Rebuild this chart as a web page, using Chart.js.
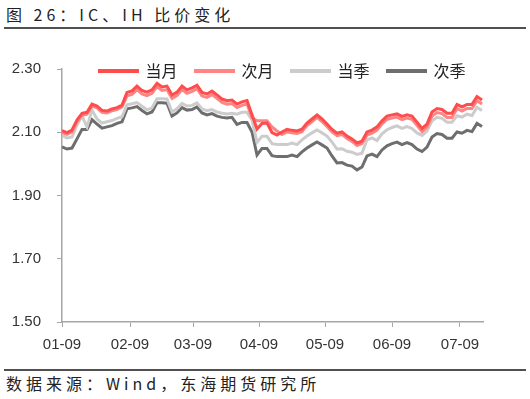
<!DOCTYPE html>
<html>
<head>
<meta charset="utf-8">
<script src="https://cdn.jsdelivr.net/npm/chart.js@4.4.1/dist/chart.umd.min.js"></script>
<style>
  body { margin: 0; background: #fff; width: 530px; height: 399px; position: relative; overflow: hidden; }
  .cjk { font-family: "Noto Sans CJK SC", sans-serif; color: #222; position: absolute; white-space: nowrap; }
  #title { left: 6px; top: 3px; font-size: 16px; line-height: 22px; letter-spacing: 4px; }
  #source { left: 6px; top: 373px; font-size: 16px; line-height: 20px; letter-spacing: 4px; }
  .rule { position: absolute; left: 4px; width: 522px; height: 2px; background: #505050; }
  #chartBox { position: absolute; left: 0; top: 25px; }
</style>
</head>
<body>
<div id="title" class="cjk">图 26：IC、IH 比价变化</div>
<div class="rule" style="top:27px"></div>
<div id="chartBox"><canvas id="ratio" width="530" height="335"></canvas></div>
<div class="rule" style="top:369px"></div>
<div id="source" class="cjk">数据来源：Wind，东海期货研究所</div>

<script>
// trading-day index on the x axis, month ticks sit between days
const seriesNames = ["当月", "次月", "当季", "次季"];
const tickDays = [0, 13.6, 26.2, 39.4, 52.6, 66, 79.6];
const tickLabels = ["01-09", "02-09", "03-09", "04-09", "05-09", "06-09", "07-09"];

const curMonth = [
  2.105, 2.099, 2.107, 2.139, 2.160, 2.163, 2.189, 2.183, 2.169, 2.167,
  2.174, 2.178, 2.186, 2.226, 2.231, 2.246, 2.232, 2.227, 2.234, 2.255,
  2.243, 2.246, 2.218, 2.227, 2.246, 2.234, 2.240, 2.249, 2.226, 2.221,
  2.230, 2.218, 2.205, 2.200, 2.202, 2.189, 2.196, 2.200, 2.155, 2.110,
  2.128, 2.129, 2.099, 2.091, 2.101, 2.109, 2.106, 2.104, 2.110, 2.129,
  2.142, 2.155, 2.142, 2.126, 2.109, 2.097, 2.101, 2.088, 2.079, 2.066,
  2.072, 2.101, 2.107, 2.117, 2.136, 2.151, 2.155, 2.158, 2.150, 2.155,
  2.151, 2.132, 2.112, 2.126, 2.164, 2.175, 2.172, 2.160, 2.160, 2.188,
  2.180, 2.188, 2.188, 2.213, 2.202
];
const nextMonth = [
  2.099, 2.093, 2.101, 2.133, 2.154, 2.157, 2.183, 2.177, 2.163, 2.161,
  2.168, 2.172, 2.180, 2.215, 2.220, 2.235, 2.221, 2.216, 2.223, 2.244,
  2.232, 2.235, 2.207, 2.216, 2.235, 2.223, 2.229, 2.238, 2.215, 2.210,
  2.219, 2.207, 2.194, 2.189, 2.191, 2.178, 2.185, 2.189, 2.146, 2.136,
  2.136, 2.136, 2.117, 2.104, 2.093, 2.101, 2.098, 2.096, 2.102, 2.121,
  2.134, 2.147, 2.134, 2.118, 2.101, 2.089, 2.093, 2.080, 2.071, 2.058,
  2.064, 2.091, 2.097, 2.107, 2.126, 2.141, 2.145, 2.148, 2.140, 2.145,
  2.141, 2.122, 2.102, 2.116, 2.151, 2.162, 2.159, 2.147, 2.147, 2.175,
  2.167, 2.175, 2.175, 2.200, 2.189
];
const curQuarter = [
  2.089, 2.082, 2.085, 2.123, 2.151, 2.117, 2.170, 2.142, 2.129, 2.133,
  2.137, 2.144, 2.149, 2.187, 2.190, 2.194, 2.182, 2.171, 2.177, 2.206,
  2.206, 2.205, 2.164, 2.174, 2.191, 2.183, 2.185, 2.193, 2.174, 2.168,
  2.172, 2.164, 2.160, 2.158, 2.160, 2.157, 2.163, 2.163, 2.139, 2.068,
  2.087, 2.087, 2.064, 2.061, 2.061, 2.061, 2.066, 2.061, 2.076, 2.088,
  2.098, 2.107, 2.098, 2.088, 2.069, 2.047, 2.048, 2.040, 2.037, 2.030,
  2.034, 2.076, 2.082, 2.074, 2.095, 2.108, 2.115, 2.120, 2.112, 2.118,
  2.112, 2.098, 2.090, 2.104, 2.136, 2.147, 2.144, 2.132, 2.132, 2.152,
  2.148, 2.157, 2.153, 2.179, 2.169
];
const nextQuarter = [
  2.054, 2.047, 2.050, 2.079, 2.109, 2.109, 2.140, 2.126, 2.113, 2.117,
  2.121, 2.128, 2.133, 2.174, 2.177, 2.181, 2.169, 2.158, 2.164, 2.193,
  2.193, 2.192, 2.151, 2.161, 2.178, 2.170, 2.172, 2.180, 2.161, 2.155,
  2.159, 2.151, 2.147, 2.145, 2.147, 2.125, 2.131, 2.131, 2.101, 2.028,
  2.049, 2.049, 2.026, 2.023, 2.023, 2.023, 2.028, 2.023, 2.038, 2.050,
  2.060, 2.069, 2.060, 2.050, 2.025, 2.003, 2.004, 1.996, 1.993, 1.981,
  1.990, 2.025, 2.031, 2.023, 2.044, 2.057, 2.064, 2.069, 2.061, 2.067,
  2.061, 2.047, 2.039, 2.053, 2.085, 2.096, 2.093, 2.081, 2.081, 2.101,
  2.097, 2.106, 2.102, 2.128, 2.118
];
const days = curMonth.map((_, i) => i);

const colors = ["#FF4D4D", "#FF8585", "#CCCCCC", "#6E6E6E"];
const axisColor = "#A6A6A6";
const tickFont = { family: "Liberation Sans", size: 15 };

// the legend sits inside the top of the plot in the original
const legendNudge = {
    id: "legendNudge",
    afterLayout(chart) {
        const lg = chart.legend, ca = chart.chartArea;
        lg.top = ca.top - 24;
        lg.bottom = lg.top + lg.height;
        lg.left = ca.left + 10;
        lg.right = ca.right + 10;
    },
};

const chart = new Chart(document.getElementById("ratio"), {
    type: "line",
    data: {
        labels: days,
        datasets: [curMonth, nextMonth, curQuarter, nextQuarter].map((d, i) => ({
            label: seriesNames[i],
            data: d,
            borderColor: colors[i],
            backgroundColor: colors[i],
            borderWidth: 3,
            pointRadius: 0,
            tension: 0,
        })),
    },
    options: {
        responsive: false,
        animation: false,
        layout: { padding: { top: 0, right: 47, bottom: 0, left: 0 } },
        plugins: {
            legend: {
                position: "top",
                labels: {
                    boxWidth: 38,
                    boxHeight: 1,
                    padding: 18,
                    color: "#222",
                    font: { family: "Noto Sans CJK SC", size: 16 },
                },
            },
            tooltip: { enabled: false },
        },
        scales: {
            x: {
                type: "linear",
                min: 0,
                max: 84.2,
                afterBuildTicks: (s) => { s.ticks = tickDays.map((v) => ({ value: v })); },
                afterFit: (s) => { s.height = 38; },
                grid: { drawOnChartArea: false, drawTicks: true, tickLength: 5, color: axisColor },
                border: { color: axisColor, width: 1.5 },
                ticks: {
                    autoSkip: false,
                    maxRotation: 0,
                    padding: 9,
                    color: "#333",
                    font: tickFont,
                    callback: (v, i) => tickLabels[i],
                },
            },
            y: {
                min: 1.5,
                max: 2.3,
                afterFit: (s) => { s.width = 62; },
                grid: { drawOnChartArea: false, drawTicks: true, tickLength: 5, color: axisColor },
                border: { color: axisColor, width: 1.5 },
                ticks: {
                    stepSize: 0.2,
                    padding: 16,
                    color: "#333",
                    font: tickFont,
                    callback: (v) => v.toFixed(2),
                },
            },
        },
    },
    plugins: [legendNudge],
});

// keep the plot box at y 69..322 on the page whatever height the legend took
const top0 = chart.chartArea.top;
document.getElementById("chartBox").style.top = (69 - top0) + "px";
if (chart.chartArea.bottom - top0 !== 253) chart.resize(530, top0 + 253 + 38);
</script>
</body>
</html>
